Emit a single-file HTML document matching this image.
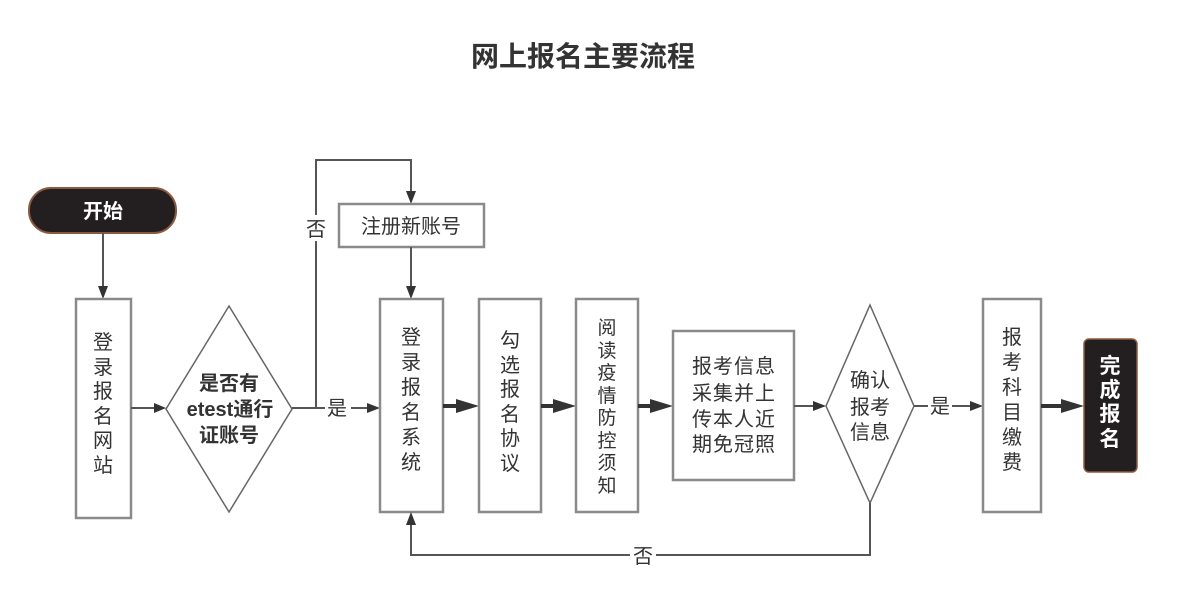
<!DOCTYPE html>
<html>
<head>
<meta charset="utf-8">
<style>
  html,body{margin:0;padding:0;background:#fff;}
  svg{display:block;}
  text{font-family:"Liberation Sans","Noto Sans CJK SC",sans-serif;fill:#333;}
</style>
</head>
<body>
<svg width="1200" height="597" viewBox="0 0 1200 597" xmlns="http://www.w3.org/2000/svg">
  <!-- Title -->
  <text x="583" y="66" font-size="28" font-weight="bold" text-anchor="middle" fill="#333">网上报名主要流程</text>

  <!-- Start pill -->
  <rect x="29" y="188" width="147" height="45" rx="22" ry="22" fill="#231f20" stroke="#8a5a3e" stroke-width="2"/>
  <text x="103" y="218" font-size="20" font-weight="bold" text-anchor="middle" style="fill:#fff">开始</text>

  <!-- Start -> box1 -->
  <line x1="103" y1="233" x2="103" y2="288" stroke="#555" stroke-width="2"/>
  <polygon points="98,286 108,286 103,299" fill="#333"/>

  <!-- Box1 登录报名网站 -->
  <rect x="76" y="299" width="55" height="219" fill="#fff" stroke="#8a8a8a" stroke-width="2.5"/>
  <g font-size="20" text-anchor="middle">
    <text x="103" y="349">登</text>
    <text x="103" y="374">录</text>
    <text x="103" y="398">报</text>
    <text x="103" y="423">名</text>
    <text x="103" y="447">网</text>
    <text x="103" y="472">站</text>
  </g>

  <!-- box1 -> diamond1 -->
  <line x1="131" y1="408" x2="156" y2="408" stroke="#555" stroke-width="2"/>
  <polygon points="154,403 154,413 166,408" fill="#333"/>

  <!-- Diamond1 -->
  <polygon points="229,306 292,409 229,512 166,409" fill="#fff" stroke="#666" stroke-width="1.5"/>
  <g font-size="20" font-weight="bold" text-anchor="middle">
    <text x="229" y="390">是否有</text>
    <text x="230" y="416">etest通行</text>
    <text x="229" y="442">证账号</text>
  </g>

  <!-- diamond1 -> 登录报名系统 -->
  <line x1="292" y1="408" x2="369" y2="408" stroke="#555" stroke-width="2"/>
  <polygon points="367,403 367,413 380,408" fill="#333"/>
  <rect x="325" y="396" width="26" height="24" fill="#fff"/>
  <text x="337" y="415" font-size="20" text-anchor="middle">是</text>

  <!-- No branch up to 注册 -->
  <polyline points="316,408 316,160 411,160 411,193" fill="none" stroke="#555" stroke-width="2"/>
  <polygon points="406,191 416,191 411,204" fill="#333"/>
  <rect x="304" y="215" width="24" height="26" fill="#fff"/>
  <text x="316" y="236" font-size="20" text-anchor="middle">否</text>

  <!-- 注册新账号 -->
  <rect x="339" y="204" width="145" height="43" fill="#fff" stroke="#8a8a8a" stroke-width="2.5"/>
  <text x="411" y="233" font-size="20" text-anchor="middle">注册新账号</text>

  <!-- 注册 -> 登录系统 -->
  <line x1="411" y1="247" x2="411" y2="288" stroke="#555" stroke-width="2"/>
  <polygon points="406,286 416,286 411,299" fill="#333"/>

  <!-- 登录报名系统 -->
  <rect x="380" y="299" width="63" height="213" fill="#fff" stroke="#8a8a8a" stroke-width="2.5"/>
  <g font-size="20" text-anchor="middle">
    <text x="411" y="344">登</text>
    <text x="411" y="369">录</text>
    <text x="411" y="394">报</text>
    <text x="411" y="419">名</text>
    <text x="411" y="444">系</text>
    <text x="411" y="469">统</text>
  </g>

  <!-- thick arrow -> 勾选 -->
  <line x1="443" y1="406" x2="460" y2="406" stroke="#333" stroke-width="4"/>
  <polygon points="456,399 456,413 479,406" fill="#333"/>

  <!-- 勾选报名协议 -->
  <rect x="479" y="299" width="62" height="213" fill="#fff" stroke="#8a8a8a" stroke-width="2.5"/>
  <g font-size="20" text-anchor="middle">
    <text x="510" y="347">勾</text>
    <text x="510" y="372">选</text>
    <text x="510" y="396">报</text>
    <text x="510" y="421">名</text>
    <text x="510" y="445">协</text>
    <text x="510" y="470">议</text>
  </g>

  <!-- thick arrow -> 阅读 -->
  <line x1="541" y1="406" x2="557" y2="406" stroke="#333" stroke-width="4"/>
  <polygon points="553,399 553,413 576,406" fill="#333"/>

  <!-- 阅读疫情防控须知 -->
  <rect x="576" y="299" width="62" height="213" fill="#fff" stroke="#8a8a8a" stroke-width="2.5"/>
  <g font-size="19" text-anchor="middle">
    <text x="607" y="334">阅</text>
    <text x="607" y="357">读</text>
    <text x="607" y="379">疫</text>
    <text x="607" y="402">情</text>
    <text x="607" y="424">防</text>
    <text x="607" y="447">控</text>
    <text x="607" y="469">须</text>
    <text x="607" y="492">知</text>
  </g>

  <!-- thick arrow -> 报考信息 -->
  <line x1="638" y1="406" x2="654" y2="406" stroke="#333" stroke-width="4"/>
  <polygon points="650,399 650,413 673,406" fill="#333"/>

  <!-- 报考信息采集... -->
  <rect x="673" y="331" width="121" height="149" fill="#fff" stroke="#8a8a8a" stroke-width="2.5"/>
  <g font-size="20" text-anchor="middle" letter-spacing="1">
    <text x="734" y="373">报考信息</text>
    <text x="734" y="400">采集并上</text>
    <text x="734" y="426">传本人近</text>
    <text x="734" y="451">期免冠照</text>
  </g>

  <!-- -> diamond2 -->
  <line x1="794" y1="406" x2="815" y2="406" stroke="#555" stroke-width="2"/>
  <polygon points="813,401 813,411 826,406" fill="#333"/>

  <!-- Diamond2 -->
  <polygon points="870,305 914,406 870,503 826,406" fill="#fff" stroke="#666" stroke-width="1.5"/>
  <g font-size="20" text-anchor="middle">
    <text x="870" y="387">确认</text>
    <text x="870" y="414">报考</text>
    <text x="870" y="439">信息</text>
  </g>

  <!-- diamond2 -> 报考科目 -->
  <line x1="914" y1="406" x2="972" y2="406" stroke="#555" stroke-width="2"/>
  <polygon points="970,401 970,411 983,406" fill="#333"/>
  <rect x="928" y="394" width="24" height="24" fill="#fff"/>
  <text x="940" y="413" font-size="20" text-anchor="middle">是</text>

  <!-- 报考科目缴费 -->
  <rect x="983" y="299" width="58" height="213" fill="#fff" stroke="#8a8a8a" stroke-width="2.5"/>
  <g font-size="20" text-anchor="middle">
    <text x="1012" y="344">报</text>
    <text x="1012" y="369">考</text>
    <text x="1012" y="394">科</text>
    <text x="1012" y="419">目</text>
    <text x="1012" y="444">缴</text>
    <text x="1012" y="469">费</text>
  </g>

  <!-- thick arrow -> 完成 -->
  <line x1="1041" y1="406" x2="1065" y2="406" stroke="#333" stroke-width="4"/>
  <polygon points="1061,399 1061,413 1084,406" fill="#333"/>

  <!-- 完成报名 -->
  <rect x="1084" y="339" width="53" height="133" rx="5" ry="5" fill="#231f20" stroke="#8a5a3e" stroke-width="1.5"/>
  <g font-size="21" font-weight="bold" text-anchor="middle" style="fill:#fff">
    <text x="1110" y="373" style="fill:#fff">完</text>
    <text x="1110" y="397" style="fill:#fff">成</text>
    <text x="1110" y="421" style="fill:#fff">报</text>
    <text x="1110" y="446" style="fill:#fff">名</text>
  </g>

  <!-- loop back from diamond2 -->
  <polyline points="870,503 870,555 411,555 411,523" fill="none" stroke="#555" stroke-width="2"/>
  <polygon points="406,525 416,525 411,512" fill="#333"/>
  <rect x="630" y="543" width="26" height="26" fill="#fff"/>
  <text x="643" y="563" font-size="20" text-anchor="middle">否</text>
</svg>
</body>
</html>
